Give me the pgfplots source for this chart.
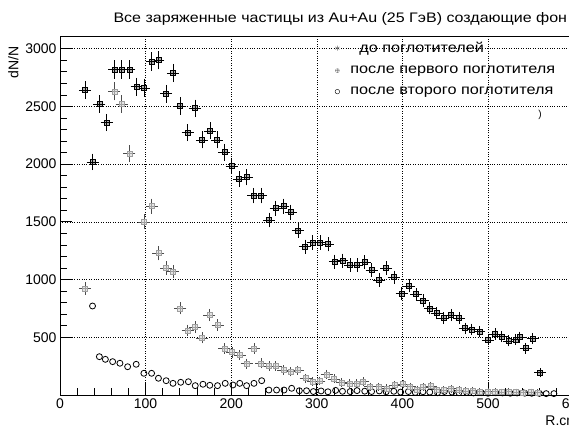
\documentclass[border=0pt]{standalone}
\usepackage{fontspec}
\setmainfont{Liberation Sans}
\newfontfamily\widesans[FakeStretch=1.16]{Liberation Sans}
\usepackage{pgfplots}
\pgfplotsset{compat=1.18}
\usepackage{pgfplotstable}

% square with a cross, like the ROOT markers
\pgfdeclareplotmark{boxplus}{%
  \pgfpathrectangle{\pgfpoint{-\pgfplotmarksize}{-\pgfplotmarksize}}{\pgfpoint{2\pgfplotmarksize}{2\pgfplotmarksize}}%
  \pgfusepathqfillstroke
  \pgfpathmoveto{\pgfpoint{-\pgfplotmarksize}{0pt}}\pgfpathlineto{\pgfpoint{\pgfplotmarksize}{0pt}}%
  \pgfpathmoveto{\pgfpoint{0pt}{-\pgfplotmarksize}}\pgfpathlineto{\pgfpoint{0pt}{\pgfplotmarksize}}%
  \pgfusepathqstroke}

% legend image: one mark, with room after it
\pgfplotsset{ptleg/.style={legend image code/.code={%
  \draw[##1] plot coordinates {(0pt,0pt)};
  \path[draw=none] (-4pt,0pt) (11pt,0pt);}}}

% before absorbers
\pgfplotstableread{
R V
29 2640
38 2020
46 2520
54.5 2360
63.5 2820
72 2820
81 2820
89.6 2670
98 2660
107 2890
115 2900
124 2610
132 2790
140.5 2504
149 2273
157.7 2484
166 2210
175 2288
183.4 2210
192 2103
200.5 1984
209 1869
218 1886
226 1727
235 1727
244 1516
252 1618
261 1635
269.5 1583
278 1424
286 1285
295 1320
304 1320
313 1306
321 1155
330 1164
339 1127
347 1127
356 1150
364 1083
373 997
381 1098
390 1020
399 881
408 945
416 873
424 817
432 751
440 708
448 665
457 693
466 665
473 578
481 569
490 549
500 477
508 529
516 506
524 468
532 482
537 500
544 405
552 490
561 193
}\before

% after first absorber
\pgfplotstableread{
R V
29 924
63.5 2630
72 2520
81 2090
98 1500
107 1635
115 1228
124 1098
132 1068
140.5 751
149 560
157.7 587
166 495
174.5 693
184 607
192 402
201 370
210 347
218 272
226.5 402
235 274
244 252
252 250
261 217
269.5 202
277.5 214
287 145
295 115
303 122
311.6 178
320 140
329 110
338 101
346.6 101
354 115
362 72
372 72
381.6 58
391 87
401 95
409 72
417 49
424 67
433 78
440 49
448 43
457 55
466 45
474 35
482 40
490 30
500 30
508 28
516 25
524 30
533 25
541 22
550 25
558 20
}\first

% after second absorber
\pgfplotstableread{
R V
38 771
46 332
53 309
61.5 289
70 275
79 245
89 266
98 188
107 188
115 145
124 124
132 101
141 110
150 115
158 81
167 93
175 84
184 81
193 101
202 87
210 101
218 81
226.6 101
235.6 124
244 43
253 43
261.7 43
270.6 58
279.6 37
288 37
296 30
305 35
313 28
322 40
330 32
339 30
347 38
356 33
364 30
373 35
381 28
390 32
398 25
407 30
415 22
424 28
432 25
441 20
449 30
458 25
466 20
475 22
483 18
492 20
500 15
509 20
517 18
526 15
534 18
543 16
551 15
560 14
568 12
577 12
}\second

\begin{document}
\begin{tikzpicture}
\path[use as bounding box] (0,0) rectangle (569pt,428pt);
\begin{axis}[
  at={(60pt,33pt)}, anchor=south west, scale only axis,
  width=513.6pt, height=359pt,
  xmin=0, xmax=600, ymin=0, ymax=3110,
  xtick={0,100,...,600}, ytick={500,1000,...,3000},
  minor x tick num=4, minor y tick num=4,
  tick pos=left, tick align=inside,
  major tick length=12pt, minor tick length=7pt,
  tick style={black, line width=0.7pt},
  axis line style={black, line width=0.8pt},
  xmajorgrids, ymajorgrids,
  grid style={black, line width=0.6pt, dash pattern=on 1pt off 1.4pt},
  /pgf/number format/assume math mode=true,
  /pgf/number format/1000 sep={},
  tick label style={font=\fontsize{14}{14}\selectfont},
  xlabel={R.cm}, ylabel={dN/N},
  label style={font=\fontsize{14}{14}\selectfont},
  xlabel style={at={(rel axis cs:1,0)}, anchor=north east, xshift=8pt, yshift=-17pt},
  ylabel style={at={(rel axis cs:-0.074,0.98)}, anchor=south east},
  legend style={draw=none, fill=none, at={(rel axis cs:0.528,1.0)}, anchor=north west,
    font=\widesans\fontsize{14}{14}\selectfont, row sep=8pt, inner xsep=2pt, inner ysep=4pt},
  legend cell align=left,
]
\addlegendimage{only marks, mark=asterisk, mark size=2.5pt, gray!80!black, ptleg}
\addlegendentry{\hspace{9pt}до поглотителей}
\addlegendimage{only marks, mark=oplus, mark size=2pt, gray, ptleg}
\addlegendentry{после первого поглотителя}
\addlegendimage{only marks, mark=o, mark size=2.3pt, black, ptleg}
\addlegendentry{после второго поглотителя}

\addplot[forget plot, only marks, mark=o, mark size=3pt, black, line width=0.8pt]
  table[x=R, y=V] {\second};

\addplot[forget plot, only marks, mark=boxplus, mark size=2.5pt, gray!75,
  mark options={fill=gray!20, line width=0.6pt},
  error bars/.cd, y dir=both, y explicit, x dir=both, x fixed=3.5,
  error bar style={gray!60!black, line width=0.6pt},
  error mark options={gray!60!black, mark size=3pt, line width=0.6pt}]
  table[x=R, y=V, y error expr=sqrt(\thisrow{V})] {\first};

\addplot[forget plot, only marks, mark=boxplus, mark size=2.5pt, black,
  mark options={fill=gray!60, line width=0.6pt},
  error bars/.cd, y dir=both, y explicit, x dir=both, x fixed=3.5,
  error bar style={black, line width=0.6pt},
  error mark options={black, mark size=3pt, line width=0.6pt}]
  table[x=R, y=V, y error expr=sqrt(\thisrow{V})] {\before};
\end{axis}
\node[anchor=west, font=\widesans\fontsize{13.8}{13.8}\selectfont] at (110pt,409pt)
  {Все заряженные частицы из Au+Au (25 ГэВ) создающие фон};
\node[font=\fontsize{10}{10}\selectfont] at (540pt,313pt) {)};
\end{tikzpicture}
\end{document}
